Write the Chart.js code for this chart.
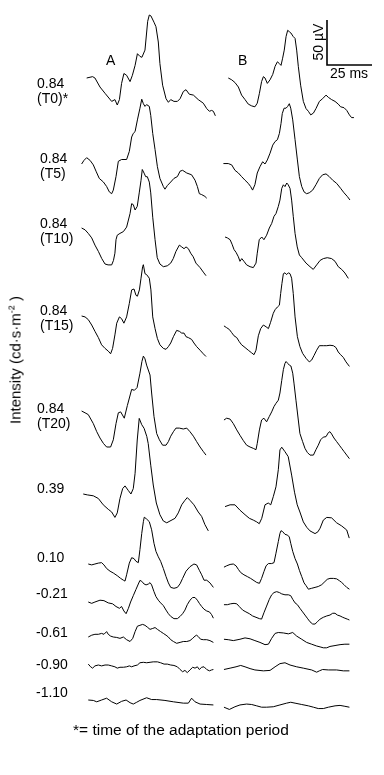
<!DOCTYPE html>
<html lang="en">
<head>
  <meta charset="UTF-8">
  <title>ERG intensity series</title>
  <script src="https://cdn.jsdelivr.net/npm/chart.js"></script>
  <style>
    body {
      margin: 0;
      background: #ffffff;
      font-family: 'Liberation Sans', Arial, sans-serif;
      color: #000000;
    }

    .fig {
      position: relative;
      width: 384px;
      height: 775px;
      overflow: hidden;
    }

    canvas {
      position: absolute;
      left: 0;
      top: 0;
    }

    .lbl {
      position: absolute;
      font-size: 14px;
      line-height: 15px;
      white-space: nowrap;
    }

    .rot {
      position: absolute;
      white-space: nowrap;
      transform: translate(-50%, -50%) rotate(-90deg);
    }

    sup { font-size: 9px; vertical-align: 6px; line-height: 0; }
  </style>
</head>
<body>
  <div class="fig" id="fig">
    <canvas id="ergChart" width="384" height="775"></canvas>
    <div class="lbl" style="left:106px; top:53px;">A</div>
    <div class="lbl" style="left:238px; top:53px;">B</div>
    <div class="lbl" style="left:330px; top:66px;">25 ms</div>
    <div class="rot" style="left:318px; top:42px; font-size:14px;">50 µV</div>
    <div class="rot" style="left:15px; top:360px; font-size:15px;">Intensity (cd·s·m<sup>-2</sup> )</div>
    <div class="lbl" style="left:73px; top:722px; font-size:15.5px;">*= time of the adaptation period</div>
  </div>

  <script>
    // flash intensities (log cd·s·m-2) and adaptation time of each row
    const intensities = ['0.84', '0.84', '0.84', '0.84', '0.84', '0.39', '0.10', '-0.21', '-0.61', '-0.90', '-1.10'];
    const periods = ['(T0)*', '(T5)', '(T10)', '(T15)', '(T20)', '', '', '', '', '', ''];

    // traces: [time ms, amplitude µV]
    const a1 = [[3.7,0],[7,1.5],[8.3,0],[11.1,-10],[13.9,-17],[17.6,-26],[19.4,-24],[20.7,-30],[21.9,-24],[23.1,-6],[24.4,5],[25.9,3],[27.8,-4],[29.1,3],[30.6,14],[31.9,27],[33.3,24],[34.4,23],[36.1,31],[37.6,63],[38.5,70],[39.4,69],[41.1,62],[42.2,57],[43.5,40],[44.4,16],[45.9,-8],[47.8,-23],[49.1,-27],[50.4,-24],[52.2,-26],[54.1,-26],[55.6,-23],[57.4,-15],[58.9,-13],[60.7,-18],[63,-19],[65.7,-24],[68.5,-28],[70.4,-34],[71.9,-37],[73.1,-36],[74.1,-37],[75.2,-42]];
    const a2 = [[0.9,0],[2.2,4],[3.7,7],[5.6,4],[7.4,-1],[8.9,-8],[10.7,-16],[13,-20],[14.8,-25],[16.3,-31],[17.6,-33],[18.5,-29],[20,-14],[21.3,3],[23.1,5],[25.9,5],[27.4,14],[28.7,30],[29.6,34],[30.6,36],[31.9,49],[33.3,62],[34.3,72],[35.2,67],[36.1,64],[37,66],[38.5,64],[39.3,54],[40.4,34],[41.7,16],[43,-3],[44.4,-16],[46.3,-25],[47.2,-28],[48.5,-24],[50.4,-20],[52.2,-16],[54.1,-14],[55.6,-8],[57,-7],[59.3,-10],[62,-12],[63.9,-18],[65.2,-25],[66.3,-33],[67.6,-34],[69.4,-36],[70.4,-38]];
    const a3 = [[0.9,0],[2.8,-2],[4.6,-6],[6.5,-11],[8.3,-19],[10.2,-26],[12.1,-34],[13.9,-40],[15.6,-41],[17.6,-41],[18.6,-36],[19.4,-28],[20,-13],[20.7,-8],[22.2,-6],[24.1,-4],[25.9,1],[27.8,16],[28.7,27],[29.6,26],[30.6,20],[31.8,24],[32.9,39],[33.9,53],[34.6,65],[35.6,61],[36.5,57],[37.4,57],[38.5,51],[39.3,39],[40.4,12],[41.7,-13],[42.9,-33],[44.4,-40],[46.3,-43],[48.5,-42],[50.4,-39],[51.8,-34],[53.3,-26],[55.2,-19],[56.5,-21],[57.8,-23],[58.9,-21],[60.2,-23],[61.5,-28],[62.9,-32],[64.4,-39],[66.7,-44],[68.5,-49],[70,-53]];
    const a4 = [[0.9,0],[2.8,-1],[4.6,-4],[6.5,-10],[8.3,-17],[10.2,-24],[12,-32],[13.9,-36],[15.7,-39],[17,-42],[18.1,-36],[19.4,-21],[20.4,-8],[21.9,-1],[23.1,-3],[24.4,-8],[25.9,-1],[27.4,14],[28.7,29],[30,30],[31.1,23],[31.9,22],[33,29],[33.9,42],[34.8,55],[35.2,57],[36.1,47],[37,46],[38.5,42],[39.4,29],[40.4,-1],[41.7,-14],[43,-25],[44.4,-32],[46.3,-36],[47.8,-37],[49.1,-34],[50.4,-30],[51.9,-23],[53.7,-16],[55.2,-17],[56.5,-19],[57.8,-19],[58.9,-23],[60.2,-24],[62,-26],[63.3,-30],[64.8,-34],[66.7,-38],[68.5,-42],[70,-45]];
    const a5 = [[0.9,0],[2.8,-2],[4.6,-4],[7.4,-14],[9.3,-23],[11.1,-30],[13,-36],[14.8,-40],[17,-40],[18.5,-32],[20,-14],[21.3,-2],[22.6,-1],[24.6,-8],[26.3,6],[28.7,24],[30.2,23],[31.7,26],[33.3,42],[34.4,55],[35.2,61],[36.1,58],[37,51],[38.9,40],[39.8,20],[41.1,-6],[42.6,-25],[44.1,-32],[45.9,-38],[47.8,-38],[49.1,-34],[50.4,-28],[51.9,-23],[53.3,-19],[55.2,-19],[57.4,-20],[59.3,-19],[61.1,-23],[63,-28],[64.8,-34],[66.7,-40],[68.5,-45],[70,-49]];
    const a6 = [[1.8,0],[4.1,-1],[7.4,-2],[10.2,-5],[12.9,-12],[15.7,-17],[17.6,-20],[19.4,-26],[20.7,-21],[22.2,-5],[23.7,6],[25,9],[26.8,4],[28.3,0],[29.6,6],[30.6,23],[31.8,60],[32.9,84],[34.3,77],[35.6,73],[37.1,64],[37.9,56],[39.3,32],[40.7,10],[42.4,-10],[44.4,-23],[46.3,-30],[48.2,-32],[50,-30],[52.8,-27],[54.6,-21],[56.5,-12],[58.3,-7],[59.6,-4],[61.1,-7],[63.3,-12],[65.7,-20],[67.6,-25],[69.4,-34],[71.3,-41]];
    const a7 = [[4.6,0],[6.5,-1],[8.3,0],[10.2,1],[12,1.5],[13.3,-1],[14.8,-5],[16.7,-8],[18.5,-10],[20.7,-13],[22.6,-16],[24.1,-18],[25,-19],[25.9,-12],[27.4,1],[28.7,7],[30,6],[31.1,3],[32.4,1.5],[33.3,16],[34.3,34],[35.2,47],[35.7,52],[37,50],[38.5,47],[39.8,38],[41.1,23],[42.2,14],[43.5,8],[44.8,3],[46.3,-5],[47.8,-14],[49.1,-21],[50.4,-26],[52.2,-27],[54.1,-26],[55.6,-22],[57,-16],[58.9,-8],[61.1,-3],[63.3,0],[64.8,-1],[66.3,-7],[67.6,-12],[68.9,-18],[70.4,-18],[72.2,-21],[74.1,-26]];
    const a8 = [[4.6,0],[6.5,-1.5],[8.3,0],[11.1,2],[13.3,1.5],[15.7,-1],[18.1,-2],[20,-5],[21.9,-7],[23.1,-5],[24.4,-10],[25.6,-13],[26.9,-7],[28.1,0],[29.6,7],[31.1,14],[32.4,20],[33.3,24],[34.3,23],[35.6,20],[36.7,19],[38,20],[38.9,21.5],[39.8,19],[41.1,11.5],[42.2,6],[43.5,2],[44.8,-1],[46.3,-4],[47.8,-9],[49.1,-13],[50.4,-16],[52.2,-18.5],[54.1,-18.5],[55.6,-16],[57,-13],[58.3,-9],[59.6,-3],[61.1,2],[62.6,5],[63.9,5],[65.2,2],[66.3,-1.5],[67.6,-5],[68.9,-8],[70.4,-10],[71.9,-11],[73.1,-14],[74.1,-18]];
    const a9 = [[4.6,0],[6.5,2],[8.3,3],[10.2,3],[12,4],[13.3,3],[14.8,6],[15.7,3],[17,1],[18.5,0],[20.4,-0.5],[22.2,-1.5],[24.1,0],[25.9,-3],[27.8,-5],[29.3,-1.5],[30.6,6],[31.9,12],[33.3,13],[34.8,14],[36.1,13],[37.4,11],[38.9,8.5],[40.4,9.5],[41.7,10.5],[43,8.5],[44.8,6],[46.3,4],[47.8,2],[49.1,0],[50.4,-3],[51.9,-5],[53.7,-7],[55.6,-6],[57.4,-5],[59.3,-5],[61.1,-4],[62.6,-1.5],[63.9,1],[64.8,2],[65.7,0.5],[67,-2.5],[68.5,-3],[70.4,-3],[72.2,-4],[74.1,-6]];
    const a10 = [[4.6,1],[5.9,-2],[7,-3.5],[8.3,-1],[10.2,0],[12,-1],[13.9,0],[15.7,0],[17.6,-1],[19.4,-2],[20.7,-3.5],[22.2,-2.5],[24.1,-2.5],[25.9,-2],[27.4,-1],[28.7,-2],[30,-1],[31.9,0],[33.3,2.5],[35.2,3],[37,2.5],[38.9,3],[40.7,3.5],[43,3.5],[44.8,2.5],[46.7,1],[48.5,1],[50.4,0],[52.2,-0.5],[54.1,-2],[55.6,-5],[57,-7.5],[58.3,-6],[59.6,-8.5],[61.1,-5.5],[62.6,-2.5],[63.9,-3.5],[65.2,-2],[66.3,-5],[67.6,-2.5],[68.9,-2],[70.4,-5],[71.9,-6.5],[73.1,-5.5],[74.1,-5]];
    const a11 = [[4.6,0],[7.4,-0.5],[9.3,-2],[12,0],[14.8,2],[17.6,-2],[20.4,-4.5],[23.1,-1.5],[25.6,0],[27.8,-3],[29.6,-4.5],[31.5,-2.5],[33.3,-0.5],[37,2.5],[39.8,0.5],[42.6,0.5],[47.2,-0.5],[51.9,-2],[57.4,-3.5],[60.2,-3.5],[62,2],[63.9,-2],[66.7,-4.5],[70.4,-5],[74.1,-5.5]];

    const b1 = [[4.6,0],[6.5,-2],[8.3,-5],[10.2,-10],[12,-19],[13.9,-24],[15.7,-29],[17.6,-31],[19.4,-32],[20.7,-28],[21.9,-17],[23.1,-4],[24.1,1.5],[25,0],[26.3,-6],[27.8,-2],[29.3,4],[30.6,13],[31.9,18],[33,16],[33.9,14],[34.8,22],[35.7,31],[36.7,46],[37.6,53],[38.5,51.5],[39.4,50],[40.7,46],[41.7,44],[42.6,31],[43.5,13],[44.8,-8],[46.3,-26],[47.8,-34],[49.1,-37],[50.4,-41],[51.9,-39],[53.3,-34],[55.2,-26],[57,-23],[58.9,-19],[60.2,-21.5],[62,-24],[63.9,-26],[65.7,-29],[67,-32],[68.9,-33],[70.4,-36],[71.9,-41],[73.1,-44],[74.4,-44]];
    const b2 = [[1.9,0.5],[4.6,0.5],[6.5,-1],[8.3,-7],[10.2,-10],[12,-14],[13.9,-18],[15.7,-21.5],[17,-25],[18.1,-29],[19.4,-23],[20.7,-10],[22.2,-3],[23.7,2.5],[25,0],[26.3,4.5],[27.8,12],[29.3,21],[30.6,25],[31.9,27],[33,34],[33.9,45],[34.6,56],[35.6,62],[36.7,62],[37.6,64],[38.5,67],[39.3,62],[40.4,49],[41.7,27],[43,4.5],[44.1,-14],[45.4,-25],[46.7,-31],[48.1,-33],[49.6,-32],[51.5,-29],[53.3,-23],[55.2,-16],[57,-12],[58.9,-11],[60.7,-14],[62.6,-18],[64.8,-21.5],[67,-27],[68.9,-32],[70.7,-36],[72.2,-40]];
    const b3 = [[2.8,-10],[4.1,-11],[5.6,-13],[6.7,-18],[7.8,-24],[8.9,-27],[10.2,-32],[11.1,-37],[12.1,-34],[13.3,-37],[14.8,-41],[16.7,-43],[18.5,-44],[20,-39],[20.7,-28],[21.8,-13],[23.2,-10],[24.4,-13],[25.9,-8],[27.4,0],[28.7,5],[30,13],[31.1,16],[32.4,24],[33.3,31],[34.3,44],[35.2,48],[36.1,46],[37.1,50],[37.9,48],[38.9,44],[39.8,31],[40.7,13],[41.7,-6],[42.9,-21],[44.1,-30],[45.4,-33],[47.8,-39],[50,-43],[51.8,-46],[53.7,-41],[55.6,-36],[57.4,-34],[59.6,-33],[62,-34],[63.9,-37],[65.7,-43],[67.6,-46],[69.4,-50],[71.3,-56]];
    const b4 = [[2.2,-11],[3.7,-13],[5.2,-15],[6.5,-18.5],[7.8,-22],[9.3,-24],[10.7,-28.5],[12,-32],[13.9,-35],[15.7,-38],[17.6,-41],[18.9,-43],[20,-38],[21.3,-22],[22.6,-14],[24.1,-10],[25.6,-12],[26.9,-14],[28.1,-7],[29.6,3],[30.6,7],[31.9,10],[33,12],[33.7,25],[34.4,36],[35.2,47],[36.1,48],[37,46],[38,48],[38.9,47],[39.8,42],[40.7,25],[41.7,-1],[43,-23],[44.4,-34],[45.9,-41.5],[47.8,-47],[49.6,-51],[50.9,-49],[52.2,-44],[53.7,-38],[55.2,-33],[57.4,-33],[59.3,-33],[61.1,-32.5],[63,-33],[64.4,-35],[65.7,-40],[67,-43],[68.5,-46],[70,-51],[71.9,-56]];
    const b5 = [[2.2,-10],[3.7,-8],[5.6,-9],[7.4,-14],[9.3,-21],[11.1,-27],[13,-33],[14.8,-38],[16.7,-40],[18.5,-41.5],[20,-43],[20.7,-36],[21.9,-21],[23.1,-10],[24.4,-8],[25.9,-12],[27.4,-6],[28.7,-1],[30,5],[31.1,8.5],[32.4,12],[33.3,20],[34.3,34],[35.2,46],[36.1,53],[36.7,55],[37.6,53],[38.5,51],[39.4,50],[40.4,42],[41.1,31],[42.2,12],[43.5,-10],[44.4,-25],[45.9,-34],[47.2,-41.5],[48.5,-46],[50,-49],[51.9,-49],[53.3,-43],[54.6,-38],[55.9,-32],[57.4,-29],[58.9,-28.5],[60.2,-24],[61.1,-23],[62,-25.5],[63.3,-30],[64.8,-34],[66.3,-38],[67.6,-41.5],[68.9,-45],[70.4,-49],[71.9,-53]];
    const b6 = [[2.8,-14],[5.6,-12],[8.3,-12],[11.1,-18],[13.9,-23],[16.3,-27],[18.5,-29],[20.4,-31],[21.8,-33],[23.2,-27],[25,-12],[26.8,-10],[28.2,-12],[29.6,-3],[31.1,8],[32.4,27],[33.3,49],[34.3,52],[36.1,47],[37.9,41.5],[39.8,21],[41.4,2],[42.9,-12],[44.4,-20],[46.3,-31],[48.2,-37],[50,-41],[52.8,-44],[54.4,-42],[55.6,-38],[57.4,-29],[59.3,-26],[62,-26.5],[64.8,-32],[67.6,-35.5],[70.4,-40],[71.8,-49]];
    const b7 = [[2.2,-3.5],[3.7,-2],[5.6,-0.5],[7.4,0],[8.9,-2],[10.2,-6],[11.5,-9.5],[13.3,-12],[15.2,-14],[17,-16],[18.9,-18.5],[20.4,-20.5],[21.9,-21.5],[23.1,-16],[24.4,-8.5],[25.6,-2],[26.9,0.5],[28.7,0.5],[30,1.5],[31.1,12],[32.4,25],[33.3,34],[33.9,37],[34.8,36],[36.1,33],[37.6,32],[38.5,30],[39.3,23],[40.4,14],[41.7,6],[43,0],[44.1,-7],[45.4,-14],[46.7,-21],[47.8,-24],[49.1,-28],[50.9,-27],[52.8,-26],[54.6,-25],[56.5,-23],[58.3,-19.5],[59.6,-17],[61.1,-16],[63,-16],[64.8,-16.5],[66.3,-18.5],[67.6,-20.5],[68.9,-23],[70.4,-26],[71.9,-28]];
    const b8 = [[2.2,-3],[4.1,-3],[5.9,-2],[7.8,-1.5],[9.3,-2],[10.7,-5],[12.6,-9],[14.4,-11],[16.3,-13],[18.1,-15.5],[20,-17],[21.9,-18.5],[23.1,-19],[24.4,-12],[25.9,-4.5],[27.4,3],[28.7,8],[30,10.5],[31.5,11.5],[33,10.5],[34.3,9],[36.1,8],[38,8],[39.3,7],[40.4,3],[41.7,-1],[43,-3],[44.4,-7],[45.9,-11],[47.2,-14.5],[48.5,-18],[50,-22],[51.5,-24.5],[52.8,-24.5],[54.1,-22],[55.6,-19],[57.4,-17],[59.3,-15.5],[61.1,-14.5],[62.6,-12.5],[63.9,-12.5],[65.2,-14.5],[66.7,-15.5],[68.2,-17],[69.4,-18],[70.7,-19],[71.9,-20]];
    const b9 = [[2.2,-2.5],[4.6,-3],[7.4,-4],[11.1,-2.5],[13.9,-1],[16.7,-2],[19.4,-4],[22.2,-6],[25,-8.5],[26.9,-8],[28.7,-1.5],[30.6,4],[32.4,5],[35.2,4.5],[38,3.5],[40.4,5],[42.6,1],[45.4,-2.5],[48.1,-6],[50.9,-8],[53.7,-10],[55.6,-11],[57.4,-12],[59.3,-12],[61.1,-10.5],[63.9,-9.5],[66.7,-8.5],[69.4,-8],[71.9,-8]];
    const b10 = [[2.2,-5],[5.6,-3.5],[8.9,-2],[11.5,-0.5],[13.9,-2],[16.7,-4],[19.4,-5.5],[24.1,-6.5],[27.8,-6],[30.6,-2],[33.3,1.5],[36.1,2.5],[38.9,0],[42.6,-2],[46.3,-3.5],[50.9,-5.5],[53.7,-8],[55.2,-6.5],[57,-5],[60.2,-5.5],[64.8,-5.5],[68.5,-6.5],[71.9,-6.5]];
    const b11 = [[2.2,-8],[5.2,-10.5],[8.3,-7.5],[11.1,-5.5],[14.8,-4.5],[17.6,-5],[20.4,-6.5],[23.1,-8],[25.9,-8],[29.6,-7.5],[33.3,-5.5],[37,-3.5],[39.3,-2.5],[41.7,-3.5],[45.4,-5],[49.1,-6.5],[51.9,-8],[54.6,-9.5],[57.4,-9.5],[60.2,-8],[63.9,-6.5],[66.7,-6],[69.4,-7],[71.9,-8]];

    const colA = [a1, a2, a3, a4, a5, a6, a7, a8, a9, a10, a11];
    const colB = [b1, b2, b3, b4, b5, b6, b7, b8, b9, b10, b11];

    // calibration bar
    const barUV = 50;
    const barMs = 25;

    // ---- layout (pixels) ----
    const W = 384, H = 775;
    const PX_PER_MS = 1.8;   // 25 ms = 45 px
    const PX_PER_UV = 0.9;   // 50 uV = 45 px
    const colLeft = [80, 220];
    const rowBase = [78, 164, 228, 316, 411, 494, 564, 602, 637, 665, 700];
    const labelTop = [76, 151, 216, 303, 401, 481, 550, 586, 625, 657, 685];
    const labelLeft = [37, 40, 40, 40, 37, 37, 37, 36, 36, 36, 36];
    const barCorner = [327, 65];

    const fig = document.getElementById('fig');
    intensities.forEach((v, i) => {
      const d = document.createElement('div');
      d.className = 'lbl';
      d.style.left = labelLeft[i] + 'px';
      d.style.top = labelTop[i] + 'px';
      d.innerHTML = v + (periods[i] ? '<br>' + periods[i] : '');
      fig.appendChild(d);
    });

    const datasets = [];
    [colA, colB].forEach((col, c) => {
      const x0 = colLeft[c] / PX_PER_MS;
      col.forEach((trace, r) => {
        const y0 = -rowBase[r] / PX_PER_UV;
        datasets.push({
          label: (c ? 'B ' : 'A ') + intensities[r] + ' ' + periods[r],
          data: trace.map(p => ({ x: x0 + p[0], y: y0 + p[1] })),
          borderColor: '#000000',
          borderWidth: 1,
          pointRadius: 0,
          tension: 0
        });
      });
    });

    const bx = barCorner[0] / PX_PER_MS, by = -barCorner[1] / PX_PER_UV;
    datasets.push({
      label: 'scale',
      data: [{ x: bx, y: by + barUV }, { x: bx, y: by }, { x: bx + barMs, y: by }],
      borderColor: '#000000',
      borderWidth: 1.6,
      pointRadius: 0,
      tension: 0
    });

    new Chart(document.getElementById('ergChart'), {
      type: 'line',
      data: { datasets: datasets },
      options: {
        responsive: false,
        animation: false,
        devicePixelRatio: 1,
        layout: { padding: 0 },
        plugins: {
          legend: { display: false },
          tooltip: { enabled: false }
        },
        scales: {
          x: { type: 'linear', display: false, min: 0, max: W / PX_PER_MS },
          y: { type: 'linear', display: false, min: -H / PX_PER_UV, max: 0 }
        }
      }
    });
  </script>
</body>
</html>
